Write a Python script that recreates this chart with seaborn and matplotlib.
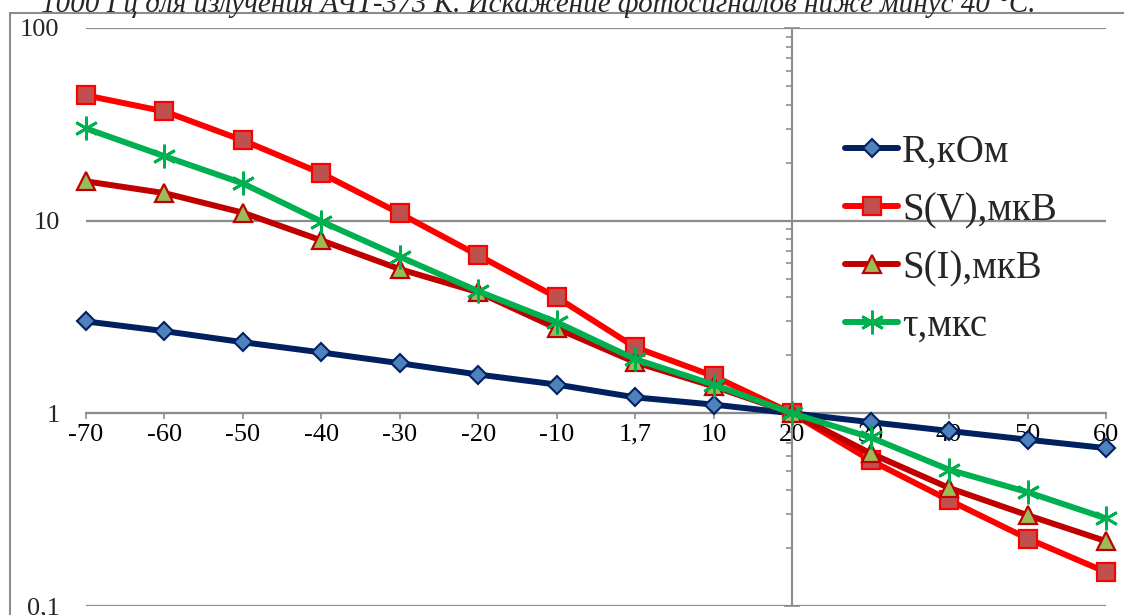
import numpy as np
import pandas as pd
import matplotlib
matplotlib.use("Agg")
import matplotlib.pyplot as plt
import seaborn as sns
from matplotlib.ticker import FixedLocator, FixedFormatter, NullFormatter
from matplotlib.patches import Rectangle
from matplotlib.lines import Line2D

# ---- data ----
categories = ["-70", "-60", "-50", "-40", "-30", "-20", "-10", "1,7",
              "10", "20", "30", "40", "50", "60"]
r_kohm = [3.0, 2.67, 2.34, 2.07, 1.82, 1.59, 1.41, 1.21, 1.11, 1.0, 0.90, 0.81, 0.73, 0.66]
s_v = [44.7, 36.9, 26.1, 17.6, 10.9, 6.6, 4.0, 2.2, 1.56, 1.0, 0.57, 0.354, 0.224, 0.150]
s_i = [16.0, 13.9, 11.0, 7.9, 5.6, 4.25, 2.76, 1.84, 1.38, 1.0, 0.62, 0.41, 0.296, 0.217]
tau = [30.1, 21.6, 15.6, 9.9, 6.5, 4.3, 2.97, 1.91, 1.41, 1.0, 0.75, 0.51, 0.39, 0.285]
series_names = ["R,кОм", "S(V),мкВ", "S(I),мкВ", "τ,мкс"]
y_ticks = [0.1, 1, 10, 100]
y_tick_labels = ["0,1", "1", "10", "100"]
title = "1000 Гц для излучения АЧТ-373 К. Искажение фотосигналов ниже минус 40 °С."

values = [r_kohm, s_v, s_i, tau]
rows = []
for name, vals in zip(series_names, values):
    for i, v in enumerate(vals):
        rows.append({"pos": i, "val": v, "series": name})
df = pd.DataFrame(rows)

# ---- styles ----
styles = {
    "R,кОм":     dict(color="#002060", marker="D", ms=9.6, mfc="#4F81BD", mec="#002060", mew=1.5),
    "S(V),мкВ":  dict(color="#FF0000", marker="s", ms=13, mfc="#C0504D", mec="#FF0000", mew=1.6),
    "S(I),мкВ":  dict(color="#C00000", marker="^", ms=13.5, mfc="#9BBB59", mec="#C00000", mew=1.6),
    "τ,мкс":     dict(color="#00B050", marker=(6, 2, 0), ms=17, mfc="#00B050", mec="#00B050", mew=2.0),
}
LW = 4.3
GRAY = "#8C8C8C"
CROSS = 9  # category index where the vertical axis crosses ("20")

sns.set_theme(style="white")
plt.rcParams["font.family"] = ["Liberation Serif", "DejaVu Serif"]

fig = plt.figure(figsize=(11.24, 6.15), dpi=100)
ax = fig.add_axes([86 / 1124, 1 - 606 / 615, (1106 - 86) / 1124, (606 - 28) / 615])

for k, name in enumerate(series_names):
    st = styles[name]
    sub = df[df["series"] == name]
    sns.lineplot(data=sub, x="pos", y="val", ax=ax, color=st["color"],
                 linewidth=LW, sort=False, errorbar=None, legend=False)
    line = ax.lines[-1]
    line.set_marker(st["marker"])
    line.set_markersize(st["ms"])
    line.set_markerfacecolor(st["mfc"])
    line.set_markeredgecolor(st["mec"])
    line.set_markeredgewidth(st["mew"])
    line.set_solid_joinstyle("round")
    line.set_solid_capstyle("round")
    line.set_zorder(3 + k)
    line.set_clip_on(False)

ax.set_yscale("log")
ax.set_ylim(0.1, 100)
ax.set_xlim(0, len(categories) - 1)
ax.set_xlabel("")
ax.set_ylabel("")

# x axis at y=1
for s in ["top", "right", "left"]:
    ax.spines[s].set_visible(False)
ax.spines["bottom"].set_position(("data", 1))
ax.spines["bottom"].set_color(GRAY)
ax.spines["bottom"].set_linewidth(1.5)
ax.set_xticks(range(len(categories)))
ax.set_xticklabels(categories)
ax.tick_params(axis="x", which="major", direction="out", length=4.5, width=1.2,
               color=GRAY, labelsize=19, labelcolor="black", pad=3, bottom=True)

# y tick labels at the left (low position)
ax.yaxis.set_major_locator(FixedLocator(y_ticks))
ax.yaxis.set_major_formatter(FixedFormatter(y_tick_labels))
ax.yaxis.set_minor_locator(FixedLocator([]))
ax.tick_params(axis="y", which="major", length=0, labelsize=19, pad=19, left=True)
ax.yaxis.grid(True, which="major", color=GRAY, linewidth=1.6)
ax.set_axisbelow(True)

# vertical axis crossing at category "20"
ax.axvline(CROSS, color=GRAY, linewidth=1.5, zorder=1.5)
sec = ax.secondary_yaxis(CROSS / (len(categories) - 1))
for sp in sec.spines.values():
    sp.set_visible(False)
sec.yaxis.set_major_locator(FixedLocator(y_ticks))
minors = [m * d for d in [0.1, 1, 10] for m in range(2, 10)]
sec.yaxis.set_minor_locator(FixedLocator(minors))
sec.yaxis.set_major_formatter(NullFormatter())
sec.yaxis.set_minor_formatter(NullFormatter())
sec.tick_params(axis="y", which="major", direction="inout", length=12, width=1.2, color=GRAY)
sec.tick_params(axis="y", which="minor", direction="in", length=4, width=1.2, color=GRAY)

# legend
handles = []
for name in series_names:
    st = styles[name]
    handles.append(Line2D([0], [0], color=st["color"], linewidth=LW, marker=st["marker"],
                          markersize=st["ms"], markerfacecolor=st["mfc"],
                          markeredgecolor=st["mec"], markeredgewidth=st["mew"],
                          solid_capstyle="round"))
leg = fig.legend(handles, series_names, loc="upper left",
                 bbox_to_anchor=(845 / 1124, 1 - 134 / 615), frameon=False,
                 fontsize=28, handlelength=1.375, handletextpad=0.1,
                 labelspacing=0.54, borderpad=0, borderaxespad=0)

# chart frame and clipped title
fig.patches.append(Rectangle((10 / 1124, -0.1), 1.2, 1.1 - 13 / 615,
                             transform=fig.transFigure, fill=False,
                             edgecolor=GRAY, linewidth=1.5))
fig.text(538 / 1124, 1 - 12 / 615, title, ha="center", va="baseline",
         fontsize=21, fontstyle="italic")

fig.savefig("out.png", dpi=100)
